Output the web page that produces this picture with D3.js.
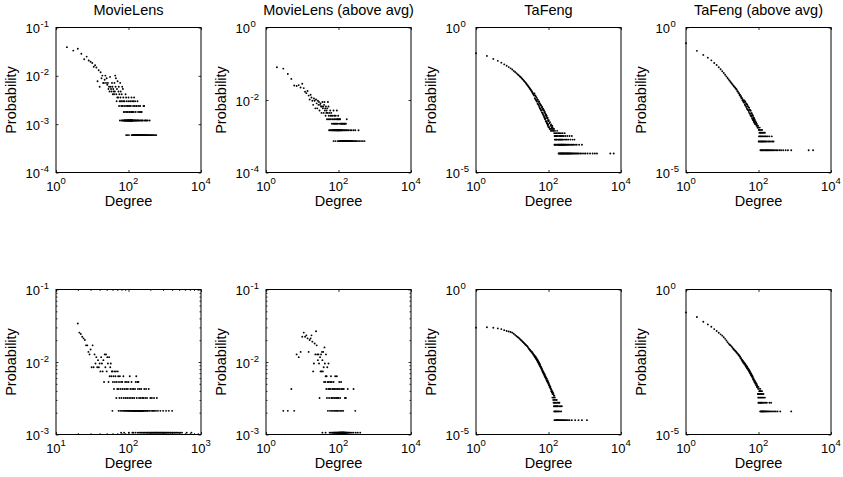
<!DOCTYPE html>
<html>
<head>
<meta charset="utf-8">
<script src="https://cdn.jsdelivr.net/npm/d3@7"></script>
<style>
body { margin: 0; background: #fff; }
text { font-family: "Liberation Sans", Arial, Helvetica, sans-serif; fill: #000; }
</style>
</head>
<body>
<script>
// degree distributions
// each "upper" list is [degree, number of nodes], each band is [number of nodes, [degrees...]]

// --- MovieLens (items) ---
var ml_item_total = 1682 ;
var ml_item_upper = [[2,66],[3,56],[4,61],[5,48],[6,37],[7,42],[8,35],[9,33],[10,31],[11,26],[12,28],[13,25],[14,13],[15,22],[16,10],[17,20],[18,15],[19,17],[20,12],[21,12],[22,14],[23,17],[24,12],[25,15],[26,11],[27,12],[28,9],[29,10],[30,8],[31,16],[32,10],[33,9],[34,8],[35,12],[36,10],[37,7],[38,9],[39,8],[40,7],[41,12],[42,8],[43,17],[44,10],[45,15],[46,7],[47,5],[48,9],[49,6],[50,13],[52,6],[53,8],[54,10],[55,4],[56,7],[57,5],[59,12],[60,6],[61,8],[62,5],[63,4],[65,7],[66,5],[67,10],[68,4],[70,9],[72,6],[73,5],[74,3],[76,4],[78,5],[80,3],[83,7],[85,4],[86,6],[88,3],[90,5],[92,4],[95,3],[98,4],[100,6],[102,5],[104,3],[107,4],[110,3],[113,5],[116,4],[119,3],[121,6],[124,3],[126,5],[130,3],[134,4],[137,5],[140,3],[143,6],[148,4],[152,5],[158,3],[163,4],[170,4],[177,5],[184,3],[193,4],[205,3],[210,4],[219,3],[232,3],[259,4],[271,4]] ;
var ml_item_bands = [
    [2, [58,64,69,71,75,77,79,81,82,84,87,89,91,93,94,96,97,99,101,103,105,106,108,109,111,112,114,115,117,118,120,122,123,125,127,128,131,135,139,145,150,155,160,166,174,181,189,198,215,225,241,250,282,297,310,340,383]],
    [1, [86,93,103,122,129,133,138,142,146,149,153,156,159,162,165,168,171,175,178,182,186,190,194,199,203,208,213,218,223,228,234,240,247,254,262,270,279,288,298,308,320,332,345,360,376,392,410,430,452,480,509,545,583]]
] ;

// --- MovieLens (items, above avg) ---
var ml_item_avg_total = 1360 ;
var ml_item_avg_upper = [[2,109],[3,100],[4,71],[5,52],[6,34],[7,33],[8,35],[9,30],[10,38],[11,29],[12,23],[13,21],[14,24],[15,18],[16,14],[17,19],[18,16],[19,13],[20,10],[21,15],[22,13],[23,8],[24,14],[25,11],[26,8],[27,13],[28,10],[29,12],[30,7],[31,10],[32,11],[33,9],[34,6],[35,9],[36,12],[37,8],[38,9],[39,6],[40,10],[41,12],[42,7],[43,8],[44,5],[45,9],[46,6],[47,7],[48,4],[49,8],[50,6],[51,12],[52,4],[53,9],[54,5],[56,6],[57,4],[59,7],[60,5],[62,4],[63,6],[65,5],[66,3],[68,4],[70,5],[72,3],[73,7],[75,4],[77,3],[78,5],[80,4],[82,3],[84,5],[86,4],[88,3],[90,7],[92,4],[94,3],[96,4],[98,5],[100,4],[104,3],[108,4],[111,4],[115,3],[120,3],[125,3],[130,3],[137,3],[145,3],[150,3],[160,3],[169,4]] ;
var ml_item_avg_bands = [
    [2, [55,58,61,64,67,69,71,74,76,79,81,83,85,87,89,91,93,95,97,99,101,103,105,107,109,113,117,119,122,127,132,140,147,155,165,175,190,210,230,260,290,357]],
    [1, [73,82,94,102,106,110,114,118,121,124,126,129,131,134,136,139,141,144,146,149,152,154,158,161,166,170,173,177,180,184,188,193,198,203,208,215,222,228,236,245,255,270,285,300,320,345,380,420,470,522]]
] ;

// --- TaFeng (items) ---
var tf_item_total = 22000 ;
var tf_item_upper = [[1,2860],[2,2310],[3,1820],[4,1560],[5,1350],[6,1180],[7,1050],[8,950],[9,860],[10,780],[11,700],[12,640],[13,590],[14,540],[15,500],[16,460],[17,430],[18,400],[19,370],[20,345],[21,320],[22,300],[23,282],[24,262],[25,245],[26,230],[27,216],[28,203],[29,190],[30,180],[31,168],[32,160],[33,150],[34,142],[35,134],[36,126],[37,119],[38,113],[39,106],[40,100],
    [41,118],[42,80],[43,100],[44,72],[45,93],[46,66],[47,84],[48,61],[49,74],[50,52],[51,70],[52,49],[53,60],[54,45],[55,62],[56,40],[57,54],[58,36],[59,50],[60,34],[61,47],[62,30],[63,44],[64,31],[65,38],[66,26],[67,40],[68,25],[69,33],[70,23],[71,35],[72,21],[73,30],[74,20],[75,31],[76,18],[77,26],[78,17],[79,27],[80,15],[81,24],[82,16],[83,21],[84,13],[85,22],[86,13],[87,19],[88,12],[89,20],[90,11],[91,17],[92,11],[93,16],[94,10],[95,17],[96,9],[97,14],[98,10],[99,13],[100,8],[102,14],[104,8],[106,11],[108,7],[110,12],[112,7],[114,9],[116,6],[118,10],[120,7],[122,8],[124,6],[126,9],[128,7],[130,8],[133,6],[136,7],[139,6],[142,7],[151,6],[173,6]] ;
var tf_item_bands = [
    [5, [144,157,171,188,200,220,245,280]],
    [4, [147,153,162,167,178,195,205,212,225,240,262,290,330,380,440]],
    [3, [149,155,165,169,182,192,198,208,218,230,236,250,270,300,320,350,400,460,520]],
    [2, [146,150,159,163,176,183,187,196,202,209,214,222,228,233,242,248,256,265,275,285,295,310,325,345,365,390,420,450,490,540,600,700,835]],
    [1, [190,197,204,211,216,224,231,238,246,253,260,268,277,288,298,306,315,327,336,348,360,372,385,400,415,430,452,475,500,530,560,600,640,690,760,840,950,1050,1200,1400,1650,1900,2170,5070,6290]]
] ;

// --- TaFeng (items, above avg) ---
var tf_item_avg_total = 17000 ;
var tf_item_avg_upper = [[1,4890],[2,2660],[3,1930],[4,1550],[5,1250],[6,1020],[7,870],[8,720],[9,620],[10,530],[11,460],[12,400],[13,350],[14,310],[15,275],[16,250],[17,225],[18,205],[19,188],[20,172],[21,160],[22,150],[23,140],[24,130],[25,124],[26,108],[27,106],[28,93],[29,92],[30,80],[31,82],[32,70],[33,72],[34,61],[35,63],[36,53],[37,56],[38,47],[39,50],[40,43],
    [41,52],[42,37],[43,47],[44,34],[45,42],[46,31],[47,39],[48,27],[49,37],[50,25],[51,33],[52,24],[53,30],[54,21],[55,29],[56,19],[57,25],[58,18],[59,24],[60,16],[61,23],[62,15],[63,19],[64,15],[65,19],[66,13],[67,17],[68,12],[69,16],[70,11],[71,15],[72,11],[73,13],[74,10],[75,13],[76,9],[77,12],[78,9],[79,11],[80,8],[82,10],[84,8],[86,9],[88,7],[90,8],[92,7],[94,6],[97,7],[100,6],[104,5]] ;
var tf_item_avg_bands = [
    [6, [96,108]],
    [5, [102,110,118,126]],
    [4, [106,112,116,124,132,140,150]],
    [3, [103,109,114,120,127,135,145,155,165,180,200,233]],
    [2, [101,105,111,117,122,128,134,142,148,158,170,185,200,220,240,260]],
    [1, [113,119,125,130,137,143,152,160,167,175,183,192,205,215,230,245,265,285,310,340,380,420,480,560,650,800,2420,3200]]
] ;

// --- MovieLens (users) ---
var ml_user_total = 943 ;
var ml_user_upper = [[20,32],[21,24],[22,23],[23,21],[24,20],[25,19],[26,16],[27,16],[28,13],[29,12],[30,14],[31,8],[32,16],[33,8],[34,12],[35,9],[36,11],[37,8],[38,10],[39,8],[40,9],[41,7],[42,11],[43,9],[44,7],[45,10],[46,5],[47,12],[48,8],[49,12],[50,7],[51,11],[52,9],[53,5],[54,11],[55,6],[56,8],[57,9],[58,6],[59,7],[60,7],[61,5],[62,6],[63,4],[64,7],[65,5],[66,6],[67,7],[68,3],[69,5],[70,4],[71,7],[72,6],[73,4],[74,5],[75,3],[76,6],[78,4],[79,5],[80,3],[82,5],[83,4],[85,6],[86,3],[88,4],[90,5],[91,3],[93,4],[95,5],[96,3],[98,4],[100,5],[102,3],[104,6],[106,4],[108,3],[110,5],[112,4],[114,3],[117,4],[120,3],[123,4],[126,5],[128,6],[130,3],[133,5],[135,4],[137,5],[140,3],[143,4],[147,3],[150,4],[155,3],[160,3],[165,4],[170,3],[175,4],[180,3],[190,4],[200,3],[210,3],[225,3],[246,3]] ;
var ml_user_bands = [
    [2, [60,73,77,81,84,87,89,92,94,97,99,101,103,105,107,109,111,113,115,116,118,119,121,122,124,125,127,129,131,132,134,136,138,139,141,142,144,145,146,148,149,151,152,153,156,158,161,163,167,172,177,182,186,195,205,215,220,230,240,255,275,300,330,360,400]],
    [1, [79,87,101,113,117,125,134,140,147,151,158,163,167,174,179,183,188,195,198,205,210,213,220,226,228,233,240,243,251,254,262,266,274,278,286,293,297,306,311,321,327,337,344,356,363,377,386,401,411,429,440,459,474,496,518,547,635,737]]
] ;

// --- MovieLens (users, above avg) ---
var ml_user_avg_total = 943 ;
var ml_user_avg_upper = [[3,2],[4,2],[5,4],[6,2],[7,12],[8,11],[9,13],[10,21],[11,24],[12,21],[13,22],[14,20],[15,13],[16,19],[17,20],[18,22],[19,18],[20,7],[21,9],[22,17],[23,12],[24,25],[25,16],[26,12],[27,10],[28,12],[29,9],[30,3],[31,11],[32,7],[33,12],[34,7],[35,13],[36,10],[37,7],[38,13],[39,8],[40,5],[41,15],[42,9],[43,5],[44,6],[45,12],[46,4],[47,6],[48,3],[49,8],[50,5],[51,2],[52,4],[53,9],[54,5],[55,3],[56,4],[58,2],[59,5],[60,4],[62,6],[63,3],[64,2],[65,5],[67,4],[68,3],[70,2],[72,4],[73,5],[75,3],[76,2],[78,4],[80,3],[81,6],[83,2],[85,4],[87,3],[89,2],[90,6],[92,4],[94,3],[96,2],[98,4],[100,3],[103,2],[105,5],[108,4],[111,3],[114,2],[118,5],[120,4],[124,2],[130,4],[135,2],[140,4],[150,3],[160,3],[180,4],[260,4],[290,2]] ;
var ml_user_avg_bands = [
    [1, [36,44,57,61,66,69,71,74,77,79,82,84,86,88,91,93,95,97,99,101,102,104,106,107,109,110,112,113,115,116,117,119,121,122,123,125,126,127,128,129,131,132,133,134,136,138,139,141,143,145,147,149,152,155,158,162,166,170,175,182,190,200,215,235,260,300,340,398]]
] ;

// --- TaFeng (users) ---
var tf_user_total = 32000 ;
var tf_user_upper = [[1,1550],[2,1590],[3,1540],[4,1460],[5,1380],[6,1270],[7,1190],[8,1135],[9,1090],[10,1040],[11,950],[12,870],[13,800],[14,735],[15,690],[16,640],[17,595],[18,560],[19,520],[20,490],[21,460],[22,430],[23,410],[24,385],[25,370],[26,350],[27,330],[28,305],[29,288],[30,272],[31,262],[32,244],[33,240],[34,222],[35,224],[36,201],[37,204],[38,182],[39,186],[40,166],[41,171],[42,150],[43,158],[44,138],[45,147],[46,126],[47,134],[48,116],[49,124],[50,104],[51,114],[52,96],[53,104],[54,87],[55,95],[56,80],[57,88],[58,73],[59,80],[60,68],[62,70],[63,60],[64,63],[65,54],[66,58],[68,48],[69,52],[70,44],[72,46],[73,40],[74,43],[76,36],[77,39],[78,33],[80,36],[81,30],[83,32],[84,27],[86,29],[88,24],[90,27],[91,22],[93,24],[95,20],[97,22],[99,18],[101,19],[103,16],[105,17],[107,14],[109,15],[111,13],[113,14],[115,12],[117,12],[119,10],[121,11],[124,9],[127,10],[130,8],[133,9],[137,8],[141,7],[145,7]] ;
var tf_user_bands = [
    [6, [128,140,150]],
    [5, [135,146,160,169]],
    [4, [138,147,152,162,175,190,200]],
    [3, [141,149,156,165,172,181,197,215,233]],
    [2, [143,151,158,166,178,186,205,223]],
    [1, [146,154,163,168,174,180,185,192,199,208,218,228,240,252,265,280,300,320,345,380,440,545,673,835,1150]]
] ;

// --- TaFeng (users, above avg) ---
var tf_user_avg_total = 16000 ;
var tf_user_avg_upper = [[1,2600],[2,1800],[3,1240],[4,1000],[5,830],[6,690],[7,590],[8,515],[9,455],[10,410],[11,360],[12,318],[13,280],[14,245],[15,218],[16,200],[17,190],[18,175],[19,160],[20,146],[21,137],[22,128],[23,121],[24,114],[25,108],[26,100],[27,98],[28,88],[29,87],[30,78],[31,78],[32,68],[33,68],[34,60],[35,61],[36,53],[37,56],[38,48],[39,51],[40,44],[41,47],[42,41],[43,43],[44,37],[45,40],[46,34],[47,37],[48,31],[49,34],[50,29],[51,31],[52,27],[53,29],[54,25],[55,27],[56,23],[57,25],[58,21],[59,23],[60,20],[61,21],[62,18],[63,20],[64,17],[65,18],[66,16],[67,17],[68,15],[69,16],[70,13],[72,14],[73,12],[74,13],[76,11],[77,12],[78,10],[80,11],[82,9],[84,10],[86,8],[88,9],[90,7],[92,8],[94,7],[97,6],[100,7],[103,6],[108,5],[112,6]] ;
var tf_user_avg_bands = [
    [5, [105,112,118,125]],
    [4, [96,100,107,114,120,128,137]],
    [3, [98,103,110,116,122,131,140,150]],
    [2, [99,104,109,115,119,124,133,142,155,170,200,223]],
    [1, [111,117,121,126,129,134,139,145,152,160,168,178,190,205,222,245,270,300,335,398,800]]
] ;

// axis ticks
var x_ticks_wide = [1, 1e2, 1e4] ;
var x_ticks_user = [1e1, 1e2, 1e3] ;
var y_ticks_ml_item = [1e-4, 1e-3, 1e-2, 1e-1] ;
var y_ticks_ml_item_avg = [1e-4, 1e-2, 1] ;
var y_ticks_tf = [1e-5, 1] ;
var y_ticks_ml_user = [1e-3, 1e-2, 1e-1] ;

var titles = ["MovieLens", "MovieLens (above avg)", "TaFeng", "TaFeng (above avg)"] ;

var panels = [
    {title: titles[0], total: ml_item_total, upper: ml_item_upper, bands: ml_item_bands, xdom: [1, 1e4], ydom: [1e-4, 1e-1], xticks: x_ticks_wide, yticks: y_ticks_ml_item},
    {title: titles[1], total: ml_item_avg_total, upper: ml_item_avg_upper, bands: ml_item_avg_bands, xdom: [1, 1e4], ydom: [1e-4, 1], xticks: x_ticks_wide, yticks: y_ticks_ml_item_avg},
    {title: titles[2], total: tf_item_total, upper: tf_item_upper, bands: tf_item_bands, xdom: [1, 1e4], ydom: [1e-5, 1], xticks: x_ticks_wide, yticks: y_ticks_tf},
    {title: titles[3], total: tf_item_avg_total, upper: tf_item_avg_upper, bands: tf_item_avg_bands, xdom: [1, 1e4], ydom: [1e-5, 1], xticks: x_ticks_wide, yticks: y_ticks_tf},
    {title: "", total: ml_user_total, upper: ml_user_upper, bands: ml_user_bands, xdom: [1e1, 1e3], ydom: [1e-3, 1e-1], xticks: x_ticks_user, yticks: y_ticks_ml_user},
    {title: "", total: ml_user_avg_total, upper: ml_user_avg_upper, bands: ml_user_avg_bands, xdom: [1, 1e4], ydom: [1e-3, 1e-1], xticks: x_ticks_wide, yticks: y_ticks_ml_user},
    {title: "", total: tf_user_total, upper: tf_user_upper, bands: tf_user_bands, xdom: [1, 1e4], ydom: [1e-5, 1], xticks: x_ticks_wide, yticks: y_ticks_tf},
    {title: "", total: tf_user_avg_total, upper: tf_user_avg_upper, bands: tf_user_avg_bands, xdom: [1, 1e4], ydom: [1e-5, 1], xticks: x_ticks_wide, yticks: y_ticks_tf}
] ;

var width = 843, height = 477 ;
var col_left = [56, 266, 476, 686] ;
var row_top = [27.5, 289.5] ;
var W = 145, H = 145 ;
var tick_len = 2.5 ;

function exponent_of(v)
{
    var e = Math.round(Math.log10(v)) ;
    return (e < 0 ? "-" : "") + Math.abs(e) ;
}

function add_ticks(g, axis_fn, x, y, values, len)
{
    var a = g.append("g")
	.attr("transform", "translate(" + x + "," + y + ")")
	.call(axis_fn.tickValues(values).tickSizeInner(-len).tickSizeOuter(0).tickFormat("")) ;
    a.select(".domain").remove() ;
    a.selectAll("line").attr("stroke", "#000").attr("stroke-width", 0.8) ;
}

function draw_panel(svg, p, left, top)
{
    var x = d3.scaleLog().domain(p.xdom).range([0, W]) ;
    var y = d3.scaleLog().domain(p.ydom).range([H, 0]) ;

    var g = svg.append("g").attr("transform", "translate(" + left + "," + top + ")") ;

    //gather points as probabilities
    var pts = p.upper.map(function(d) { return {k: d[0], p: d[1] / p.total} ; }) ;
    p.bands.forEach(function(b) {
	b[1].forEach(function(k) { pts.push({k: k, p: b[0] / p.total}) ; }) ;
    }) ;

    g.selectAll("circle.pt").data(pts).enter().append("circle")
	.attr("class", "pt")
	.attr("cx", function(d) { return x(d.k) ; })
	.attr("cy", function(d) { return y(d.p) ; })
	.attr("r", 0.95)
	.attr("fill", "#000") ;

    //minor ticks only when the axis spans two decades or less
    var xdec = Math.log10(p.xdom[1] / p.xdom[0]) ;
    var ydec = Math.log10(p.ydom[1] / p.ydom[0]) ;
    if(xdec <= 2)
    {
	var xm = x.ticks().filter(function(v) { return p.xticks.indexOf(v) < 0 ; }) ;
	add_ticks(g, d3.axisBottom(x), 0, H, xm, 1.5) ;
	add_ticks(g, d3.axisTop(x), 0, 0, xm, 1.5) ;
    }
    if(ydec <= 2)
    {
	var ym = y.ticks().filter(function(v) { return p.yticks.indexOf(v) < 0 ; }) ;
	add_ticks(g, d3.axisLeft(y), 0, 0, ym, 1.5) ;
	add_ticks(g, d3.axisRight(y), W, 0, ym, 1.5) ;
    }

    add_ticks(g, d3.axisBottom(x), 0, H, p.xticks, tick_len) ;
    add_ticks(g, d3.axisTop(x), 0, 0, p.xticks, tick_len) ;
    add_ticks(g, d3.axisLeft(y), 0, 0, p.yticks, tick_len) ;
    add_ticks(g, d3.axisRight(y), W, 0, p.yticks, tick_len) ;

    g.append("rect")
	.attr("x", 0).attr("y", 0)
	.attr("width", W).attr("height", H)
	.attr("fill", "none")
	.attr("stroke", "#000")
	.attr("stroke-width", 1) ;

    //x tick labels: 10 with superscript exponent, centred on the tick
    p.xticks.forEach(function(v) {
	var t = g.append("text")
	    .attr("x", x(v))
	    .attr("y", H + 18)
	    .attr("text-anchor", "middle")
	    .attr("font-size", "13px") ;
	t.append("tspan").text("10") ;
	t.append("tspan").attr("dy", -6.5).attr("font-size", "9.5px").text(exponent_of(v)) ;
    }) ;

    //y tick labels
    p.yticks.forEach(function(v) {
	g.append("text")
	    .attr("x", -16)
	    .attr("y", y(v) + 5.5)
	    .attr("text-anchor", "end")
	    .attr("font-size", "13px")
	    .text("10") ;
	g.append("text")
	    .attr("x", -15.5)
	    .attr("y", y(v) - 0.5)
	    .attr("text-anchor", "start")
	    .attr("font-size", "9.5px")
	    .text(exponent_of(v)) ;
    }) ;

    g.append("text")
	.attr("x", W / 2)
	.attr("y", H + 33.5)
	.attr("text-anchor", "middle")
	.attr("font-size", "14.5px")
	.text("Degree") ;

    g.append("text")
	.attr("transform", "translate(-40," + (H / 2) + ") rotate(-90)")
	.attr("text-anchor", "middle")
	.attr("font-size", "14.5px")
	.text("Probability") ;

    if(p.title != "")
    {
	g.append("text")
	    .attr("x", W / 2)
	    .attr("y", -12.5)
	    .attr("text-anchor", "middle")
	    .attr("font-size", "14.5px")
	    .text(p.title) ;
    }
}

var svg = d3.select("body").append("svg")
    .attr("width", width)
    .attr("height", height) ;

svg.append("rect").attr("width", width).attr("height", height).attr("fill", "#fff") ;

panels.forEach(function(p, i) {
    draw_panel(svg, p, col_left[i % 4], row_top[Math.floor(i / 4)]) ;
}) ;
</script>
</body>
</html>
